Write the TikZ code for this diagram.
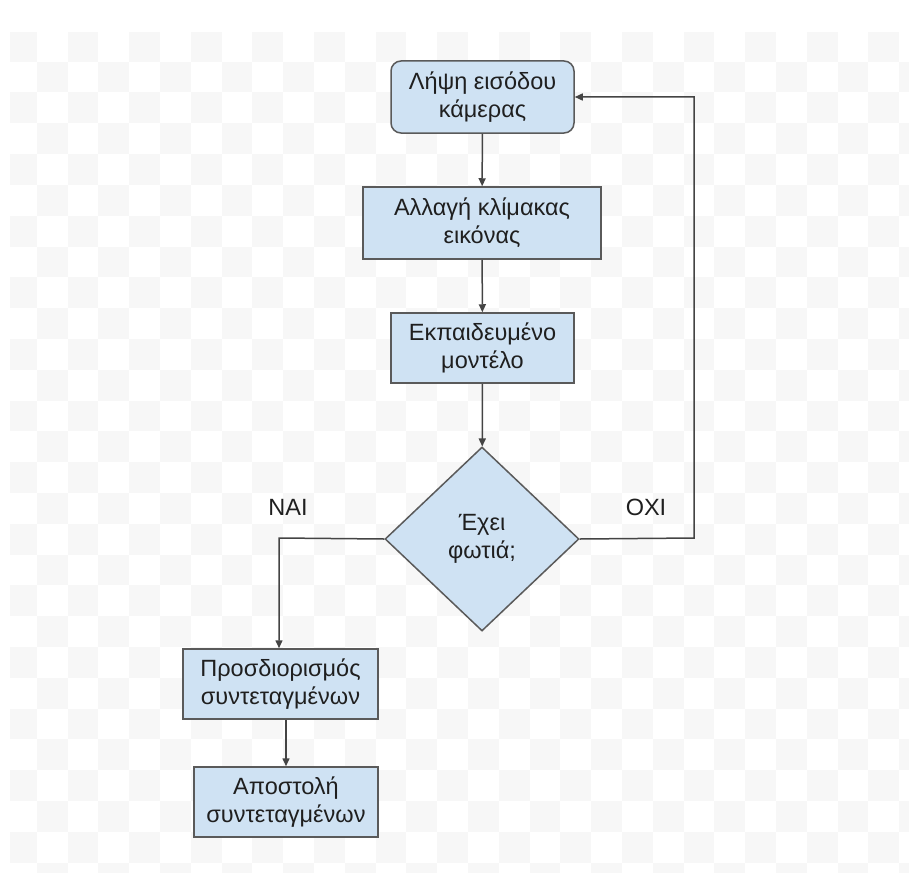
\documentclass[tikz,border=0pt]{standalone}
\usepackage{fontspec}
\setmainfont{Liberation Sans}
\usetikzlibrary{arrows.meta,shapes.geometric,calc}
\definecolor{boxfill}{HTML}{CFE2F3}
\definecolor{boxline}{HTML}{5A5A5A}
\definecolor{wire}{HTML}{444444}
\definecolor{tile}{HTML}{F7F7F7}
\definecolor{ink}{HTML}{1F1F1F}
\tikzset{
  stepbox/.style={draw=boxline, line width=1.5pt, fill=boxfill, text=ink,
    align=center, inner sep=0pt,
    font=\fontsize{23.5}{28}\selectfont},
  startbox/.style={stepbox, rounded corners=10pt},
  flow/.style={draw=wire, line width=1.5pt,
    -{Triangle[length=8pt,width=7pt]}},
  branchlabel/.style={text=ink, font=\fontsize{23.5}{28}\selectfont}
}
\begin{document}
\begin{tikzpicture}[x=1pt,y=-1pt]
  \useasboundingbox (0,0) rectangle (909,872);
  % transparent-canvas checkerboard
  \begin{scope}
    \clip (10,33) rectangle (909,872);
    \foreach \r in {0,...,27}{
      \pgfmathtruncatemacro\shift{mod(\r,2)}
      \foreach \c in {0,2,...,28}{
        \fill[tile] ({5.9+30.8*(\c+\shift)},{30.9+30.8*\r})
          rectangle ++(30.8,30.8);
      }
    }
  \end{scope}

  % process steps
  \node[startbox, minimum width=183pt, minimum height=72pt] (cam)
    at (482.5,97) {Λήψη εισόδου\\κάμερας};
  \node[stepbox, minimum width=238pt, minimum height=72pt] (scale)
    at (482,223) {Αλλαγή κλίμακας\\εικόνας};
  \node[stepbox, minimum width=183pt, minimum height=70pt] (model)
    at (482.5,348) {Εκπαιδευμένο\\μοντέλο};
  \node[stepbox, diamond, minimum width=194pt, minimum height=184pt] (fire)
    at (482,539) {Έχει\\φωτιά;};
  \node[stepbox, minimum width=195pt, minimum height=70pt] (locate)
    at (280.5,684) {Προσδιορισμός\\συντεταγμένων};
  \node[stepbox, minimum width=184pt, minimum height=70pt] (send)
    at (286,802) {Αποστολή\\συντεταγμένων};

  % branch labels
  \node[branchlabel] (yes) at (288,507) {ΝΑΙ};
  \node[branchlabel] (no) at (646,507) {ΟΧΙ};

  % connectors
  \coordinate (yesturn) at (279,538);
  \coordinate (noturn) at (694,538);
  \coordinate (noback) at (694,97);
  \draw[flow] (cam) -- (scale);
  \draw[flow] (scale) -- (model);
  \draw[flow] (model) -- (fire);
  \draw[flow] (fire.west) -- (yesturn) -- (yesturn |- locate.north);
  \draw[flow] (send.north |- locate.south) -- (send.north);
  \draw[flow] (fire.east) -- (noturn) -- (noback) -- (cam.east);
\end{tikzpicture}
\end{document}
